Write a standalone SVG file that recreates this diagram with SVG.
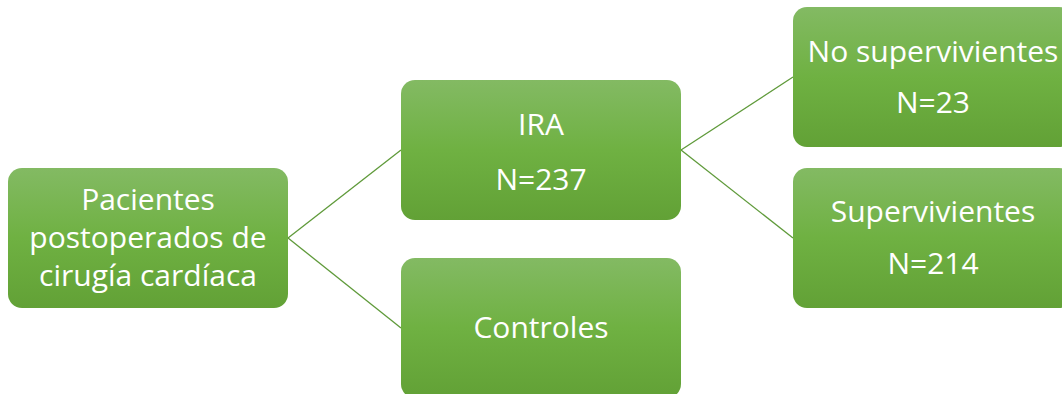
<svg xmlns="http://www.w3.org/2000/svg" width="1062" height="394" viewBox="0 0 1062 394">
<defs>
<linearGradient id="g" x1="0" y1="0" x2="0" y2="1">
<stop offset="0" stop-color="#83ba63"/>
<stop offset="0.5" stop-color="#6fb142"/>
<stop offset="1" stop-color="#62a136"/>
</linearGradient>
</defs>
<style>
.box{fill:url(#g);}
.t{font-family:"Open Sans","Liberation Sans",sans-serif;font-size:30px;fill:#ffffff;text-anchor:middle;}
.c{stroke:#5f9a3a;stroke-width:1.3;fill:none;}
</style>
<rect width="1062" height="394" fill="#ffffff"/>
<g id="connectors">
<line class="c" x1="288" y1="238" x2="401" y2="150"/>
<line class="c" x1="288" y1="238" x2="401" y2="328"/>
<line class="c" x1="681" y1="150" x2="793" y2="77"/>
<line class="c" x1="681" y1="150" x2="793" y2="238"/>
</g>
<g id="n-pacientes">
<rect class="box" x="8" y="168" width="280" height="140" rx="14"/>
<text class="t" x="148" y="210">Pacientes</text>
<text class="t" x="148" y="248">postoperados de</text>
<text class="t" x="148" y="286">cirugía cardíaca</text>
</g>
<g id="n-ira">
<rect class="box" x="401" y="80" width="280" height="140" rx="14"/>
<text class="t" x="541" y="135">IRA</text>
<text class="t" x="541" y="190">N=237</text>
</g>
<g id="n-controles">
<rect class="box" x="401" y="258" width="280" height="140" rx="14"/>
<text class="t" x="541" y="338">Controles</text>
</g>
<g id="n-nosup">
<rect class="box" x="793" y="7" width="280" height="140" rx="14"/>
<text class="t" x="933" y="62">No supervivientes</text>
<text class="t" x="933" y="113">N=23</text>
</g>
<g id="n-sup">
<rect class="box" x="793" y="168" width="280" height="140" rx="14"/>
<text class="t" x="933" y="222">Supervivientes</text>
<text class="t" x="933" y="274">N=214</text>
</g>
</svg>
